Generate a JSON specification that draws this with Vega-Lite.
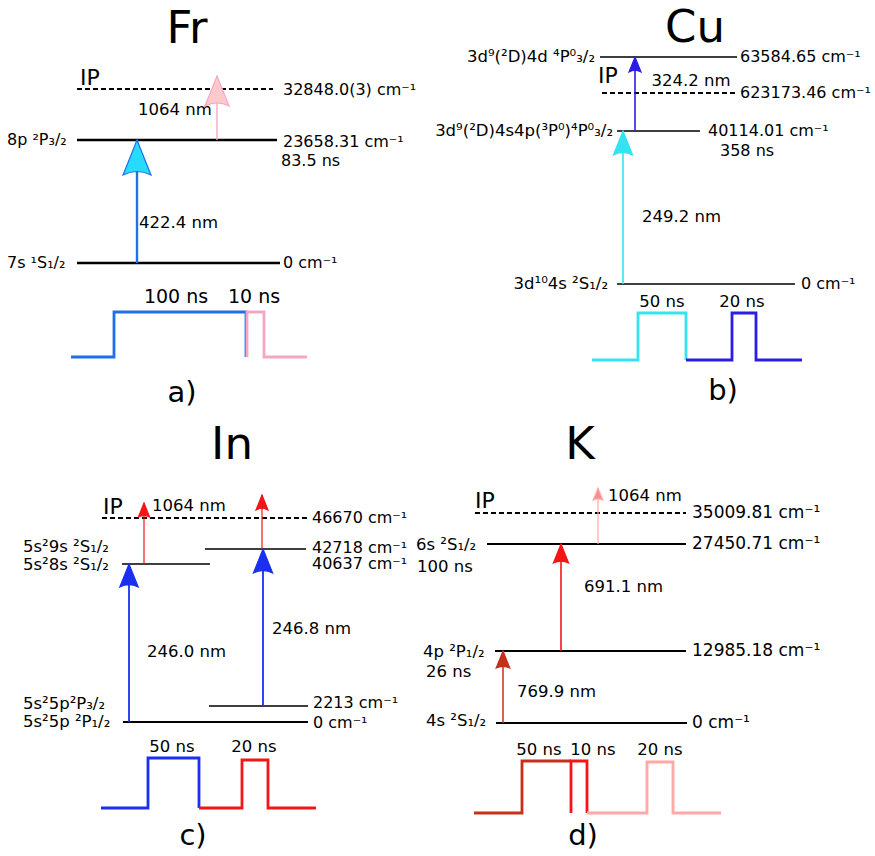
{
  "$schema": "https://vega.github.io/schema/vega-lite/v6.json",
  "width": 875,
  "height": 856,
  "padding": 0,
  "autosize": {"type": "fit", "contains": "padding"},
  "background": "white",
  "config": {"view": {"stroke": null}, "text": {"font": "DejaVu Sans", "color": "black"}},
  "datasets": {
    "levels": [
      {"atom": "Fr", "state": "IP", "x": 77, "x2": 273, "y": 89, "kind": "ip", "weight": "medium"},
      {"atom": "Fr", "state": "8p 2P3/2", "x": 77, "x2": 277, "y": 140, "kind": "level", "weight": "thick"},
      {"atom": "Fr", "state": "7s 1S1/2", "x": 77, "x2": 280, "y": 263, "kind": "level", "weight": "thick"},
      {"atom": "Cu", "state": "4d 4P3/2", "x": 600, "x2": 737, "y": 57, "kind": "level", "weight": "thin"},
      {"atom": "Cu", "state": "IP", "x": 602, "x2": 737, "y": 93, "kind": "ip", "weight": "medium"},
      {"atom": "Cu", "state": "4s4p 4P3/2", "x": 617, "x2": 700, "y": 131, "kind": "level", "weight": "thin"},
      {"atom": "Cu", "state": "4s 2S1/2", "x": 617, "x2": 795, "y": 284, "kind": "level", "weight": "thin"},
      {"atom": "In", "state": "IP", "x": 102, "x2": 307, "y": 518, "kind": "ip", "weight": "medium"},
      {"atom": "In", "state": "8s 2S1/2", "x": 122, "x2": 210, "y": 564, "kind": "level", "weight": "thin"},
      {"atom": "In", "state": "9s 2S1/2", "x": 205, "x2": 306, "y": 549, "kind": "level", "weight": "thin"},
      {"atom": "In", "state": "5p 2P3/2", "x": 209, "x2": 308, "y": 706, "kind": "level", "weight": "thin"},
      {"atom": "In", "state": "5p 2P1/2", "x": 123, "x2": 308, "y": 722, "kind": "level", "weight": "medium"},
      {"atom": "K", "state": "IP", "x": 475, "x2": 686, "y": 513, "kind": "ip", "weight": "medium"},
      {"atom": "K", "state": "6s 2S1/2", "x": 487, "x2": 686, "y": 544, "kind": "level", "weight": "medium"},
      {"atom": "K", "state": "4p 2P1/2", "x": 495, "x2": 686, "y": 651, "kind": "level", "weight": "medium"},
      {"atom": "K", "state": "4s 2S1/2", "x": 496, "x2": 687, "y": 723, "kind": "level", "weight": "medium"}
    ],
    "arrows": [
      {"beam": "fr422", "x": 137, "y": 263, "tip": 140, "head": 35},
      {"beam": "fr1064", "x": 217, "y": 140, "tip": 76, "head": 30},
      {"beam": "cu249", "x": 623, "y": 284, "tip": 131, "head": 24},
      {"beam": "cu324", "x": 635, "y": 131, "tip": 57, "head": 15},
      {"beam": "in246", "x": 129, "y": 722, "tip": 564, "head": 23},
      {"beam": "in246", "x": 263, "y": 706, "tip": 549, "head": 24},
      {"beam": "in1064", "x": 144, "y": 564, "tip": 503, "head": 14},
      {"beam": "in1064", "x": 262, "y": 549, "tip": 495, "head": 15},
      {"beam": "k770", "x": 503, "y": 723, "tip": 651, "head": 17},
      {"beam": "k691", "x": 561, "y": 651, "tip": 544, "head": 19},
      {"beam": "k1064", "x": 598, "y": 544, "tip": 488, "head": 12}
    ],
    "pulses": [
      {"beam": "fr422", "i": 0, "x": 71, "y": 357}, {"beam": "fr422", "i": 1, "x": 114, "y": 357}, {"beam": "fr422", "i": 2, "x": 114, "y": 312}, {"beam": "fr422", "i": 3, "x": 246, "y": 312}, {"beam": "fr422", "i": 4, "x": 246, "y": 357},
      {"beam": "fr1064", "i": 0, "x": 247, "y": 357}, {"beam": "fr1064", "i": 1, "x": 247, "y": 312}, {"beam": "fr1064", "i": 2, "x": 264, "y": 312}, {"beam": "fr1064", "i": 3, "x": 264, "y": 357}, {"beam": "fr1064", "i": 4, "x": 307, "y": 357},
      {"beam": "cu249", "i": 0, "x": 592, "y": 360}, {"beam": "cu249", "i": 1, "x": 638, "y": 360}, {"beam": "cu249", "i": 2, "x": 638, "y": 313}, {"beam": "cu249", "i": 3, "x": 686, "y": 313}, {"beam": "cu249", "i": 4, "x": 686, "y": 360},
      {"beam": "cu324", "i": 0, "x": 686, "y": 360}, {"beam": "cu324", "i": 1, "x": 732, "y": 360}, {"beam": "cu324", "i": 2, "x": 732, "y": 313}, {"beam": "cu324", "i": 3, "x": 756, "y": 313}, {"beam": "cu324", "i": 4, "x": 756, "y": 360}, {"beam": "cu324", "i": 5, "x": 802, "y": 360},
      {"beam": "in246", "i": 0, "x": 101, "y": 808}, {"beam": "in246", "i": 1, "x": 148, "y": 808}, {"beam": "in246", "i": 2, "x": 148, "y": 758}, {"beam": "in246", "i": 3, "x": 199, "y": 758}, {"beam": "in246", "i": 4, "x": 199, "y": 808},
      {"beam": "in1064", "i": 0, "x": 199, "y": 808}, {"beam": "in1064", "i": 1, "x": 242, "y": 808}, {"beam": "in1064", "i": 2, "x": 242, "y": 760}, {"beam": "in1064", "i": 3, "x": 268, "y": 760}, {"beam": "in1064", "i": 4, "x": 268, "y": 808}, {"beam": "in1064", "i": 5, "x": 316, "y": 808},
      {"beam": "k770", "i": 0, "x": 474, "y": 813}, {"beam": "k770", "i": 1, "x": 522, "y": 813}, {"beam": "k770", "i": 2, "x": 522, "y": 761}, {"beam": "k770", "i": 3, "x": 571, "y": 761},
      {"beam": "k691", "i": 0, "x": 571, "y": 813}, {"beam": "k691", "i": 1, "x": 571, "y": 761}, {"beam": "k691", "i": 2, "x": 587, "y": 761}, {"beam": "k691", "i": 3, "x": 587, "y": 813},
      {"beam": "k1064", "i": 0, "x": 587, "y": 813}, {"beam": "k1064", "i": 1, "x": 647, "y": 813}, {"beam": "k1064", "i": 2, "x": 647, "y": 762}, {"beam": "k1064", "i": 3, "x": 673, "y": 762}, {"beam": "k1064", "i": 4, "x": 673, "y": 813}, {"beam": "k1064", "i": 5, "x": 721, "y": 813}
    ],
    "labels": [
      {"role": "title", "text": "Fr", "x": 187, "y": 43},
      {"role": "title", "text": "Cu", "x": 695, "y": 42},
      {"role": "title", "text": "In", "x": 232, "y": 459},
      {"role": "title", "text": "K", "x": 580, "y": 459},
      {"role": "letter", "text": "a)", "x": 182, "y": 402},
      {"role": "letter", "text": "b)", "x": 723, "y": 400},
      {"role": "letter", "text": "c)", "x": 193, "y": 845},
      {"role": "letter", "text": "d)", "x": 583, "y": 845},
      {"role": "ip", "text": "IP", "x": 80, "y": 85},
      {"role": "ip", "text": "IP", "x": 598, "y": 83},
      {"role": "ip", "text": "IP", "x": 103, "y": 514},
      {"role": "ip", "text": "IP", "x": 475, "y": 508},
      {"role": "pulseFr", "text": "100 ns", "x": 176, "y": 297},
      {"role": "pulseFr", "text": "10 ns", "x": 254, "y": 297},
      {"role": "pulse", "text": "50 ns", "x": 662, "y": 302},
      {"role": "pulse", "text": "20 ns", "x": 742, "y": 302},
      {"role": "pulse", "text": "50 ns", "x": 172, "y": 747},
      {"role": "pulse", "text": "20 ns", "x": 254, "y": 747},
      {"role": "pulse", "text": "50 ns", "x": 539, "y": 750},
      {"role": "pulse", "text": "10 ns", "x": 593, "y": 750},
      {"role": "pulse", "text": "20 ns", "x": 660, "y": 750},
      {"role": "value", "text": "32848.0(3) cm⁻¹", "x": 283, "y": 90},
      {"role": "value", "text": "23658.31 cm⁻¹", "x": 283, "y": 142},
      {"role": "value", "text": "83.5 ns", "x": 281, "y": 161},
      {"role": "value", "text": "0 cm⁻¹", "x": 283, "y": 263},
      {"role": "value", "text": "63584.65 cm⁻¹", "x": 740, "y": 57},
      {"role": "value", "text": "623173.46 cm⁻¹", "x": 740, "y": 93},
      {"role": "value", "text": "40114.01   cm⁻¹", "x": 708, "y": 131},
      {"role": "value", "text": "358 ns", "x": 720, "y": 151},
      {"role": "value", "text": "0 cm⁻¹", "x": 801, "y": 284},
      {"role": "value", "text": "46670 cm⁻¹", "x": 312, "y": 518},
      {"role": "value", "text": "42718 cm⁻¹", "x": 312, "y": 548},
      {"role": "value", "text": "40637 cm⁻¹", "x": 312, "y": 564},
      {"role": "value", "text": "2213 cm⁻¹", "x": 313, "y": 703},
      {"role": "value", "text": "0 cm⁻¹", "x": 313, "y": 723},
      {"role": "valueK", "text": "35009.81 cm⁻¹", "x": 692, "y": 513},
      {"role": "valueK", "text": "27450.71 cm⁻¹", "x": 692, "y": 544},
      {"role": "valueK", "text": "12985.18 cm⁻¹", "x": 692, "y": 651},
      {"role": "valueK", "text": "0 cm⁻¹", "x": 692, "y": 723},
      {"role": "stateL", "text": "8p ²P₃/₂", "x": 7, "y": 140},
      {"role": "stateL", "text": "7s ¹S₁/₂", "x": 7, "y": 263},
      {"role": "stateR", "text": "3d⁹(²D)4d ⁴P⁰₃/₂", "x": 595, "y": 57},
      {"role": "stateR", "text": "3d⁹(²D)4s4p(³P⁰)⁴P⁰₃/₂", "x": 613, "y": 131},
      {"role": "stateR", "text": "3d¹⁰4s ²S₁/₂", "x": 608, "y": 284},
      {"role": "stateLK", "text": "5s²9s ²S₁/₂", "x": 23, "y": 547},
      {"role": "stateLK", "text": "5s²8s ²S₁/₂", "x": 23, "y": 565},
      {"role": "stateLK", "text": "5s²5p²P₃/₂", "x": 23, "y": 704},
      {"role": "stateLK", "text": "5s²5p ²P₁/₂", "x": 23, "y": 722},
      {"role": "stateLK", "text": "6s ²S₁/₂", "x": 416, "y": 545},
      {"role": "stateLK", "text": "100 ns", "x": 417, "y": 567},
      {"role": "stateLK", "text": "4p ²P₁/₂", "x": 423, "y": 652},
      {"role": "stateLK", "text": "26 ns", "x": 426, "y": 672},
      {"role": "stateLK", "text": "4s ²S₁/₂", "x": 426, "y": 721},
      {"role": "wl", "text": "422.4 nm", "x": 139, "y": 223},
      {"role": "wl", "text": "249.2 nm", "x": 642, "y": 217},
      {"role": "wl", "text": "1064 nm", "x": 152, "y": 506},
      {"role": "wl", "text": "246.0 nm", "x": 147, "y": 652},
      {"role": "wl", "text": "246.8 nm", "x": 272, "y": 629},
      {"role": "wl", "text": "1064 nm", "x": 608, "y": 496},
      {"role": "wl", "text": "691.1 nm", "x": 584, "y": 587},
      {"role": "wl", "text": "769.9 nm", "x": 517, "y": 692},
      {"role": "wlc", "text": "1064 nm", "x": 175, "y": 110},
      {"role": "wlc", "text": "324.2 nm", "x": 691, "y": 81}
    ]
  },
  "encoding": {
    "x": {"field": "x", "type": "quantitative", "scale": {"domain": [0, 875], "nice": false, "zero": false}, "axis": null},
    "y": {"field": "y", "type": "quantitative", "scale": {"domain": [0, 856], "nice": false, "zero": false, "reverse": true}, "axis": null}
  },
  "resolve": {"scale": {"strokeWidth": "independent"}},
  "layer": [
    {
      "data": {"name": "levels"},
      "mark": {"type": "rule", "color": "black", "strokeCap": "butt"},
      "encoding": {
        "x2": {"field": "x2"},
        "strokeDash": {"field": "kind", "type": "nominal", "scale": {"domain": ["level", "ip"], "range": [[1, 0], [5, 3]]}, "legend": null},
        "strokeWidth": {"field": "weight", "type": "nominal", "scale": {"type": "ordinal", "domain": ["thick", "medium", "thin"], "range": [2.6, 2, 1.3]}, "legend": null}
      }
    },
    {
      "data": {"name": "pulses"},
      "mark": {"type": "line", "strokeWidth": 2.8, "strokeJoin": "miter", "strokeCap": "butt"},
      "encoding": {
        "order": {"field": "i", "type": "quantitative"},
        "detail": {"field": "beam", "type": "nominal"},
        "stroke": {"field": "beam", "type": "nominal", "scale": {"domain": ["fr422", "fr1064", "cu249", "cu324", "in246", "in1064", "k770", "k691", "k1064"], "range": ["#1f6fe8", "#f5a6c4", "#33e4f0", "#2b1ce6", "#1a2ff0", "#f21616", "#c4301a", "#f51515", "#ffa8a8"]}, "legend": null}
      }
    },
    {
      "data": {"name": "arrows"},
      "mark": {"type": "rule", "strokeCap": "butt"},
      "encoding": {
        "y2": {"field": "tip"},
        "stroke": {"field": "beam", "type": "nominal", "legend": null},
        "strokeWidth": {"field": "beam", "type": "nominal", "scale": {"type": "ordinal", "domain": ["fr422", "fr1064", "cu249", "cu324", "in246", "in1064", "k770", "k691", "k1064"], "range": [2.4, 1.4, 1.6, 1.6, 1.8, 1.2, 1.5, 1.6, 1.2]}, "legend": null}
      }
    },
    {
      "data": {"name": "arrows"},
      "mark": {"type": "point", "shape": "M0,0 L0.8,2 Q0,1.6 -0.8,2 Z", "filled": true, "opacity": 1, "strokeWidth": 1.2, "strokeJoin": "miter"},
      "encoding": {
        "y": {"field": "tip", "type": "quantitative", "scale": {"domain": [0, 856], "nice": false, "zero": false, "reverse": true}, "axis": null},
        "size": {"field": "head", "type": "quantitative", "scale": {"type": "pow", "exponent": 2, "domain": [0, 35], "range": [0, 1225]}, "legend": null},
        "fill": {"field": "beam", "type": "nominal", "scale": {"domain": ["fr422", "fr1064", "cu249", "cu324", "in246", "in1064", "k770", "k691", "k1064"], "range": ["#27dbff", "#fccacd", "#33e4f0", "#2b1ce6", "#1a2ff0", "#f21616", "#c4301a", "#f51515", "#ff8c8c"]}, "legend": null},
        "stroke": {"field": "beam", "type": "nominal", "legend": null}
      }
    },
    {
      "data": {"name": "labels"},
      "transform": [{"filter": {"field": "role", "equal": "title"}}],
      "mark": {"type": "text", "fontSize": 45, "align": "center", "baseline": "alphabetic"},
      "encoding": {"text": {"field": "text"}}
    },
    {
      "data": {"name": "labels"},
      "transform": [{"filter": {"field": "role", "equal": "letter"}}],
      "mark": {"type": "text", "fontSize": 29, "align": "center", "baseline": "alphabetic"},
      "encoding": {"text": {"field": "text"}}
    },
    {
      "data": {"name": "labels"},
      "transform": [{"filter": {"field": "role", "equal": "ip"}}],
      "mark": {"type": "text", "fontSize": 22, "align": "left", "baseline": "alphabetic"},
      "encoding": {"text": {"field": "text"}}
    },
    {
      "data": {"name": "labels"},
      "transform": [{"filter": {"field": "role", "equal": "pulseFr"}}],
      "mark": {"type": "text", "fontSize": 19, "align": "center", "baseline": "middle"},
      "encoding": {"text": {"field": "text"}}
    },
    {
      "data": {"name": "labels"},
      "transform": [{"filter": {"field": "role", "equal": "pulse"}}],
      "mark": {"type": "text", "fontSize": 16.5, "align": "center", "baseline": "middle"},
      "encoding": {"text": {"field": "text"}}
    },
    {
      "data": {"name": "labels"},
      "transform": [{"filter": {"field": "role", "equal": "value"}}],
      "mark": {"type": "text", "fontSize": 16, "align": "left", "baseline": "middle"},
      "encoding": {"text": {"field": "text"}}
    },
    {
      "data": {"name": "labels"},
      "transform": [{"filter": {"field": "role", "equal": "valueK"}}],
      "mark": {"type": "text", "fontSize": 17, "align": "left", "baseline": "middle"},
      "encoding": {"text": {"field": "text"}}
    },
    {
      "data": {"name": "labels"},
      "transform": [{"filter": {"field": "role", "equal": "stateL"}}],
      "mark": {"type": "text", "fontSize": 16, "align": "left", "baseline": "middle"},
      "encoding": {"text": {"field": "text"}}
    },
    {
      "data": {"name": "labels"},
      "transform": [{"filter": {"field": "role", "equal": "stateLK"}}],
      "mark": {"type": "text", "fontSize": 16.5, "align": "left", "baseline": "middle"},
      "encoding": {"text": {"field": "text"}}
    },
    {
      "data": {"name": "labels"},
      "transform": [{"filter": {"field": "role", "equal": "stateR"}}],
      "mark": {"type": "text", "fontSize": 16.5, "align": "right", "baseline": "middle"},
      "encoding": {"text": {"field": "text"}}
    },
    {
      "data": {"name": "labels"},
      "transform": [{"filter": {"field": "role", "equal": "wl"}}],
      "mark": {"type": "text", "fontSize": 16.5, "align": "left", "baseline": "middle"},
      "encoding": {"text": {"field": "text"}}
    },
    {
      "data": {"name": "labels"},
      "transform": [{"filter": {"field": "role", "equal": "wlc"}}],
      "mark": {"type": "text", "fontSize": 16.5, "align": "center", "baseline": "middle"},
      "encoding": {"text": {"field": "text"}}
    }
  ]
}
